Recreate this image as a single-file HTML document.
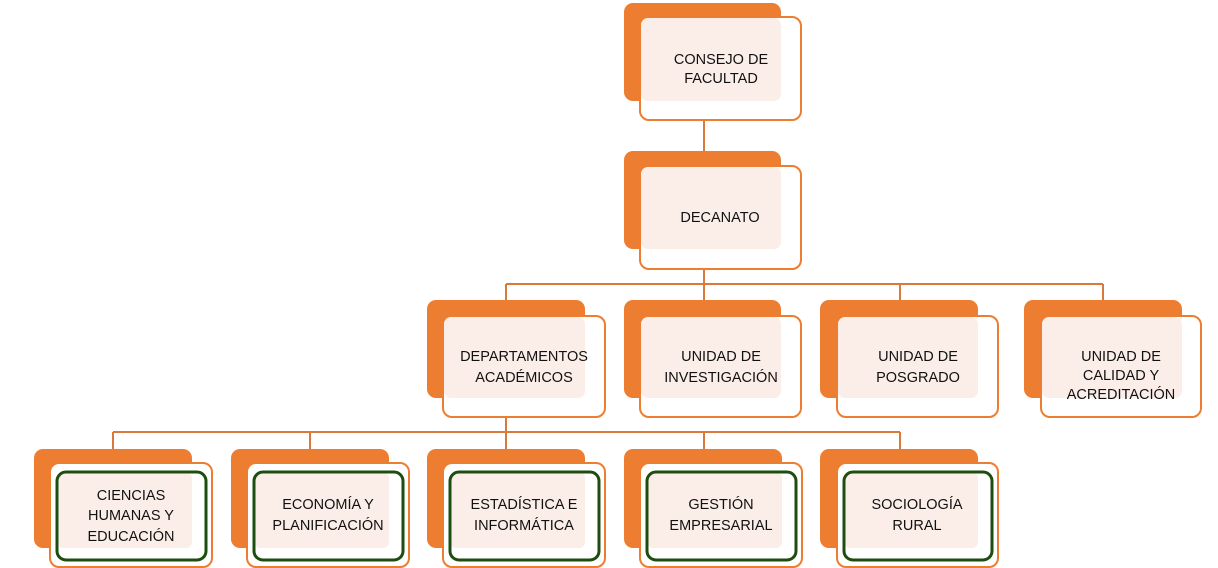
<!DOCTYPE html>
<html><head><meta charset="utf-8"><style>
html,body{margin:0;padding:0;background:#fff;}
svg{display:block;}
text{font-family:"Liberation Sans",sans-serif;font-size:14.5px;fill:#111;text-anchor:middle;}
</style></head><body>
<svg width="1218" height="568" viewBox="0 0 1218 568" xmlns="http://www.w3.org/2000/svg">
<g stroke="#d97a3a" stroke-width="2" fill="none">
<line x1="704" y1="120" x2="704" y2="151"/>
<line x1="704" y1="269" x2="704" y2="284"/>
<line x1="506" y1="284" x2="1103" y2="284"/>
<line x1="506" y1="284" x2="506" y2="300"/>
<line x1="704" y1="284" x2="704" y2="300"/>
<line x1="900" y1="284" x2="900" y2="300"/>
<line x1="1103" y1="284" x2="1103" y2="300"/>
<line x1="506" y1="400" x2="506" y2="432"/>
<line x1="113" y1="432" x2="900" y2="432"/>
<line x1="113" y1="432" x2="113" y2="449"/>
<line x1="310" y1="432" x2="310" y2="449"/>
<line x1="506" y1="432" x2="506" y2="449"/>
<line x1="704" y1="432" x2="704" y2="449"/>
<line x1="900" y1="432" x2="900" y2="449"/>
</g>
<defs>
<g id="b">
<rect x="0" y="0" width="157" height="98" rx="9" fill="#ed7d31"/>
<rect x="16" y="15" width="161" height="102" rx="9" fill="#fff" fill-opacity="0.0"/>
</g>
</defs>
<!-- generic box function manually expanded -->
<g>
<!-- top -->
<rect x="624" y="3" width="157" height="98" rx="9" fill="#ed7d31"/>
<rect x="640" y="17" width="161" height="103" rx="9" fill="#fff" stroke="#ed7d31" stroke-width="2"/>
<rect x="641" y="18" width="140" height="83" rx="7" fill="#fbeee8"/>
<!-- decanato -->
<rect x="624" y="151" width="157" height="98" rx="9" fill="#ed7d31"/>
<rect x="640" y="166" width="161" height="103" rx="9" fill="#fff" stroke="#ed7d31" stroke-width="2"/>
<rect x="641" y="167" width="140" height="82" rx="7" fill="#fbeee8"/>
<!-- row3 -->
<rect x="427" y="300" width="158" height="98" rx="9" fill="#ed7d31"/>
<rect x="443" y="316" width="162" height="101" rx="9" fill="#fff" stroke="#ed7d31" stroke-width="2"/>
<rect x="444" y="317" width="141" height="81" rx="7" fill="#fbeee8"/>
<rect x="624" y="300" width="157" height="98" rx="9" fill="#ed7d31"/>
<rect x="640" y="316" width="161" height="101" rx="9" fill="#fff" stroke="#ed7d31" stroke-width="2"/>
<rect x="641" y="317" width="140" height="81" rx="7" fill="#fbeee8"/>
<rect x="820" y="300" width="158" height="98" rx="9" fill="#ed7d31"/>
<rect x="837" y="316" width="161" height="101" rx="9" fill="#fff" stroke="#ed7d31" stroke-width="2"/>
<rect x="838" y="317" width="140" height="81" rx="7" fill="#fbeee8"/>
<rect x="1024" y="300" width="158" height="98" rx="9" fill="#ed7d31"/>
<rect x="1041" y="316" width="160" height="101" rx="9" fill="#fff" stroke="#ed7d31" stroke-width="2"/>
<rect x="1042" y="317" width="140" height="81" rx="7" fill="#fbeee8"/>
</g>
<g>
<!-- row4 -->
<g transform="translate(34,0)">
<rect x="0" y="449" width="158" height="99" rx="9" fill="#ed7d31"/>
<rect x="16" y="463" width="162" height="104" rx="9" fill="#fff" stroke="#ed7d31" stroke-width="2"/>
<rect x="23" y="472" width="135" height="76" rx="6" fill="#fbeee8"/>
<rect x="23" y="472" width="149" height="88" rx="9" fill="none" stroke="#1e4d10" stroke-width="3"/>
</g>
<g transform="translate(231,0)">
<rect x="0" y="449" width="158" height="99" rx="9" fill="#ed7d31"/>
<rect x="16" y="463" width="162" height="104" rx="9" fill="#fff" stroke="#ed7d31" stroke-width="2"/>
<rect x="23" y="472" width="135" height="76" rx="6" fill="#fbeee8"/>
<rect x="23" y="472" width="149" height="88" rx="9" fill="none" stroke="#1e4d10" stroke-width="3"/>
</g>
<g transform="translate(427,0)">
<rect x="0" y="449" width="158" height="99" rx="9" fill="#ed7d31"/>
<rect x="16" y="463" width="162" height="104" rx="9" fill="#fff" stroke="#ed7d31" stroke-width="2"/>
<rect x="23" y="472" width="135" height="76" rx="6" fill="#fbeee8"/>
<rect x="23" y="472" width="149" height="88" rx="9" fill="none" stroke="#1e4d10" stroke-width="3"/>
</g>
<g transform="translate(624,0)">
<rect x="0" y="449" width="158" height="99" rx="9" fill="#ed7d31"/>
<rect x="16" y="463" width="162" height="104" rx="9" fill="#fff" stroke="#ed7d31" stroke-width="2"/>
<rect x="23" y="472" width="135" height="76" rx="6" fill="#fbeee8"/>
<rect x="23" y="472" width="149" height="88" rx="9" fill="none" stroke="#1e4d10" stroke-width="3"/>
</g>
<g transform="translate(820,0)">
<rect x="0" y="449" width="158" height="99" rx="9" fill="#ed7d31"/>
<rect x="17" y="463" width="161" height="104" rx="9" fill="#fff" stroke="#ed7d31" stroke-width="2"/>
<rect x="24" y="472" width="134" height="76" rx="6" fill="#fbeee8"/>
<rect x="24" y="472" width="148" height="88" rx="9" fill="none" stroke="#1e4d10" stroke-width="3"/>
</g>
</g>
<text x="721" y="64">CONSEJO DE</text>
<text x="721" y="83">FACULTAD</text>
<text x="720" y="222">DECANATO</text>
<text x="524" y="361">DEPARTAMENTOS</text>
<text x="524" y="382">ACADÉMICOS</text>
<text x="721" y="361">UNIDAD DE</text>
<text x="721" y="382">INVESTIGACIÓN</text>
<text x="918" y="361">UNIDAD DE</text>
<text x="918" y="382">POSGRADO</text>
<text x="1121" y="361">UNIDAD DE</text>
<text x="1121" y="380">CALIDAD Y</text>
<text x="1121" y="399">ACREDITACIÓN</text>
<text x="131" y="500">CIENCIAS</text>
<text x="131" y="520">HUMANAS Y</text>
<text x="131" y="541">EDUCACIÓN</text>
<text x="328" y="509">ECONOMÍA Y</text>
<text x="328" y="530">PLANIFICACIÓN</text>
<text x="524" y="509">ESTADÍSTICA E</text>
<text x="524" y="530">INFORMÁTICA</text>
<text x="721" y="509">GESTIÓN</text>
<text x="721" y="530">EMPRESARIAL</text>
<text x="917" y="509">SOCIOLOGÍA</text>
<text x="917" y="530">RURAL</text>
</svg>
</body></html>
